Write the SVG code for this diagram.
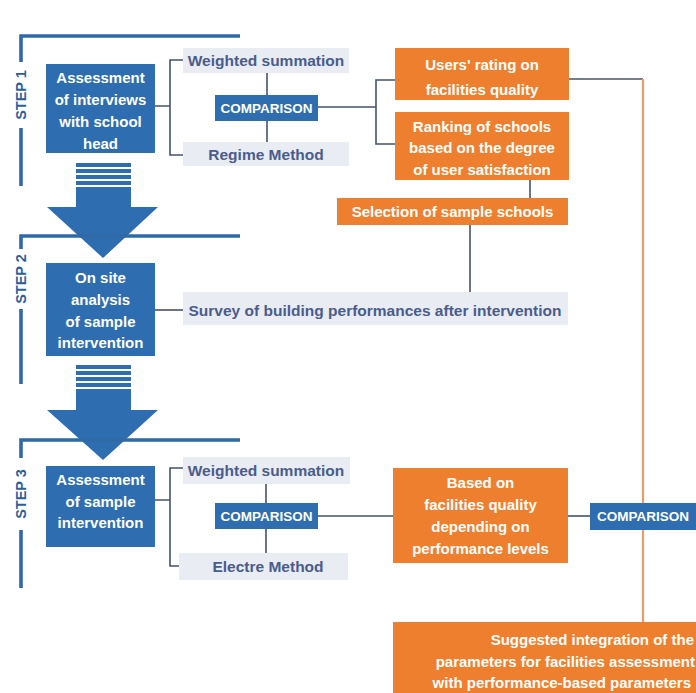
<svg xmlns="http://www.w3.org/2000/svg" width="696" height="693" viewBox="0 0 696 693">
<style>
text{font-family:"Liberation Sans",Arial,sans-serif;font-weight:bold}
.bx{fill:#2e6db0}
.or{fill:#ee7f2e}
.lb{fill:#e9ecf2}
.tw{fill:#ffffff;font-size:15px;text-anchor:middle}
.tc{fill:#ffffff;font-size:13.5px;text-anchor:middle}
.tl{fill:#4a5c8c;font-size:15.5px;text-anchor:middle}
.step{fill:#2c5f96;font-size:14.5px;text-anchor:middle}
.brk{stroke:#2f6aa6;stroke-width:3.6;fill:none}
.cn{stroke:#44546a;stroke-width:1.6;fill:none}
.ol{stroke:#ef9a68;stroke-width:2.2;fill:none}
.arr{fill:#2e6db0}
</style>
<rect x="0" y="0" width="696" height="693" fill="#ffffff"/>

<g id="arrows">
  <g id="arrow1" class="arr">
    <rect x="76" y="163" width="55" height="4"/>
    <rect x="76" y="169" width="55" height="4"/>
    <rect x="76" y="175" width="55" height="4"/>
    <rect x="76" y="181" width="55" height="4"/>
    <path d="M76,187 H131 V207 H158 L103,258 L47,207 H76 Z"/>
  </g>
  <g id="arrow2" class="arr">
    <rect x="76" y="365" width="55" height="4"/>
    <rect x="76" y="371" width="55" height="4"/>
    <rect x="76" y="377" width="55" height="4"/>
    <rect x="76" y="383" width="55" height="4"/>
    <path d="M76,389 H131 V410 H158 L103,460 L47,410 H76 Z"/>
  </g>
</g>

<g id="steps">
  <g id="step1">
    <path class="brk" d="M240,36 H21 V62 M21,128 V186"/>
    <text class="step" transform="translate(26,95) rotate(-90)">STEP 1</text>
  </g>
  <g id="step2">
    <path class="brk" d="M240,236 H21 V249 M21,309 V384"/>
    <text class="step" transform="translate(26,279) rotate(-90)">STEP 2</text>
  </g>
  <g id="step3">
    <path class="brk" d="M240,440 H21 V458 M21,530 V588"/>
    <text class="step" transform="translate(26,494) rotate(-90)">STEP 3</text>
  </g>
</g>

<g id="connectors">
  <path class="cn" d="M155,106 H170 M183,60 H170 V155 H183"/>
  <path class="cn" d="M267,73 V142"/>
  <path class="cn" d="M318,107 H376 M395,80 H376 V144 H395"/>
  <path class="cn" d="M569,79 H643"/>
  <path class="ol" d="M643,79 V622"/>
  <path class="cn" d="M530,180 V198"/>
  <path class="cn" d="M470,225 V292"/>
  <path class="cn" d="M155,310 H183"/>
  <path class="cn" d="M155,500 H170 M183,468 H170 V566 H183"/>
  <path class="cn" d="M266,484 V553"/>
  <path class="cn" d="M318,516 H393"/>
  <path class="cn" d="M568,516 H590"/>
</g>

<g id="n1">
  <rect class="bx" x="46" y="64" width="109" height="89"/>
  <text class="tw" x="100.5" y="83">Assessment</text>
  <text class="tw" x="100.5" y="105">of interviews</text>
  <text class="tw" x="100.5" y="127">with school</text>
  <text class="tw" x="100.5" y="149">head</text>
</g>
<g id="ws1">
  <rect class="lb" x="183" y="48" width="166" height="25"/>
  <text class="tl" x="266" y="66">Weighted summation</text>
</g>
<g id="rm1">
  <rect class="lb" x="183" y="142" width="166" height="24"/>
  <text class="tl" x="266" y="160">Regime Method</text>
</g>
<g id="comp1">
  <rect class="bx" x="215" y="95" width="103" height="26"/>
  <text class="tc" x="266.5" y="113">COMPARISON</text>
</g>
<g id="o1">
  <rect class="or" x="395" y="48" width="174" height="52"/>
  <text class="tw" x="482" y="70">Users' rating on</text>
  <text class="tw" x="482" y="95">facilities quality</text>
</g>
<g id="o2">
  <rect class="or" x="395" y="112" width="174" height="68"/>
  <text class="tw" x="482" y="132">Ranking of schools</text>
  <text class="tw" x="482" y="153">based on the degree</text>
  <text class="tw" x="482" y="175">of user satisfaction</text>
</g>
<g id="sel">
  <rect class="or" x="337" y="198" width="231" height="27"/>
  <text class="tw" x="452.5" y="217">Selection of sample schools</text>
</g>
<g id="n2">
  <rect class="bx" x="46" y="263" width="109" height="93"/>
  <text class="tw" x="100.5" y="283">On site</text>
  <text class="tw" x="100.5" y="305">analysis</text>
  <text class="tw" x="100.5" y="327">of sample</text>
  <text class="tw" x="100.5" y="348">intervention</text>
</g>
<g id="survey">
  <rect class="lb" x="183" y="292" width="385" height="33"/>
  <text class="tl" x="375" y="316">Survey of building performances after intervention</text>
</g>
<g id="n3">
  <rect class="bx" x="46" y="466" width="109" height="81"/>
  <text class="tw" x="100.5" y="485">Assessment</text>
  <text class="tw" x="100.5" y="507">of sample</text>
  <text class="tw" x="100.5" y="528">intervention</text>
</g>
<g id="ws3">
  <rect class="lb" x="183" y="457" width="167" height="27"/>
  <text class="tl" x="266" y="476">Weighted summation</text>
</g>
<g id="em3">
  <rect class="lb" x="179" y="553" width="169" height="27"/>
  <text class="tl" x="268" y="572">Electre Method</text>
</g>
<g id="comp2">
  <rect class="bx" x="215" y="503" width="103" height="26"/>
  <text class="tc" x="266.5" y="521">COMPARISON</text>
</g>
<g id="o3">
  <rect class="or" x="393" y="468" width="175" height="95"/>
  <text class="tw" x="480.5" y="488">Based on</text>
  <text class="tw" x="480.5" y="510">facilities quality</text>
  <text class="tw" x="480.5" y="532">depending on</text>
  <text class="tw" x="480.5" y="554">performance levels</text>
</g>
<g id="comp3">
  <rect class="bx" x="590" y="503" width="110" height="27"/>
  <text class="tc" x="643" y="521">COMPARISON</text>
</g>
<g id="sug">
  <rect class="or" x="393" y="622" width="310" height="75"/>
  <text class="tw" x="694" y="645" style="text-anchor:end">Suggested integration of the</text>
  <text class="tw" x="695" y="667" style="text-anchor:end">parameters for facilities assessment</text>
  <text class="tw" x="691" y="688" style="text-anchor:end">with performance-based parameters</text>
</g>
</svg>
